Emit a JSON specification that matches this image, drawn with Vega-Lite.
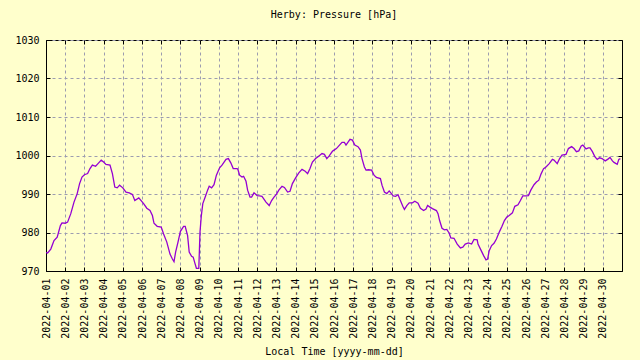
{
  "$schema": "https://vega.github.io/schema/vega-lite/v6.json",
  "width": 576,
  "height": 231,
  "autosize": {"type": "none"},
  "padding": {"left": 46, "top": 40, "right": 18, "bottom": 89},
  "background": "#ffffcc",
  "title": {"text": "Herby: Pressure [hPa]", "font": "DejaVu Sans Mono", "fontSize": 10, "fontWeight": "normal", "color": "black", "offset": 15, "anchor": "middle"},
  "data": {"values": [
    {"time": "2022-04-01T00:00", "hPa": 974.8},
    {"time": "2022-04-01T02:00", "hPa": 974.7},
    {"time": "2022-04-01T06:00", "hPa": 975.7},
    {"time": "2022-04-01T10:00", "hPa": 977.9},
    {"time": "2022-04-01T14:00", "hPa": 978.8},
    {"time": "2022-04-01T18:00", "hPa": 981.8},
    {"time": "2022-04-01T20:00", "hPa": 982.5},
    {"time": "2022-04-02T00:00", "hPa": 982.4},
    {"time": "2022-04-02T03:00", "hPa": 982.7},
    {"time": "2022-04-02T07:00", "hPa": 984.9},
    {"time": "2022-04-02T11:00", "hPa": 987.9},
    {"time": "2022-04-02T15:00", "hPa": 990.1},
    {"time": "2022-04-02T18:00", "hPa": 992.7},
    {"time": "2022-04-02T21:00", "hPa": 994.4},
    {"time": "2022-04-03T00:00", "hPa": 995.0},
    {"time": "2022-04-03T04:00", "hPa": 995.3},
    {"time": "2022-04-03T07:00", "hPa": 996.6},
    {"time": "2022-04-03T10:00", "hPa": 997.5},
    {"time": "2022-04-03T14:00", "hPa": 997.2},
    {"time": "2022-04-03T17:00", "hPa": 997.9},
    {"time": "2022-04-03T21:00", "hPa": 998.8},
    {"time": "2022-04-04T00:00", "hPa": 998.3},
    {"time": "2022-04-04T03:00", "hPa": 997.7},
    {"time": "2022-04-04T08:00", "hPa": 997.5},
    {"time": "2022-04-04T11:00", "hPa": 995.3},
    {"time": "2022-04-04T14:00", "hPa": 991.8},
    {"time": "2022-04-04T17:00", "hPa": 991.6},
    {"time": "2022-04-04T20:00", "hPa": 992.3},
    {"time": "2022-04-05T00:00", "hPa": 991.6},
    {"time": "2022-04-05T04:00", "hPa": 990.5},
    {"time": "2022-04-05T08:00", "hPa": 990.3},
    {"time": "2022-04-05T12:00", "hPa": 989.9},
    {"time": "2022-04-05T15:00", "hPa": 988.3},
    {"time": "2022-04-05T20:00", "hPa": 989.0},
    {"time": "2022-04-06T02:00", "hPa": 987.5},
    {"time": "2022-04-06T06:00", "hPa": 986.3},
    {"time": "2022-04-06T10:00", "hPa": 985.7},
    {"time": "2022-04-06T13:00", "hPa": 984.4},
    {"time": "2022-04-06T15:00", "hPa": 982.4},
    {"time": "2022-04-06T19:00", "hPa": 981.6},
    {"time": "2022-04-07T00:00", "hPa": 981.4},
    {"time": "2022-04-07T03:00", "hPa": 979.6},
    {"time": "2022-04-07T07:00", "hPa": 977.5},
    {"time": "2022-04-07T11:00", "hPa": 974.4},
    {"time": "2022-04-07T14:00", "hPa": 973.1},
    {"time": "2022-04-07T16:00", "hPa": 972.4},
    {"time": "2022-04-07T18:00", "hPa": 974.9},
    {"time": "2022-04-07T21:00", "hPa": 977.5},
    {"time": "2022-04-08T00:00", "hPa": 980.3},
    {"time": "2022-04-08T04:00", "hPa": 981.6},
    {"time": "2022-04-08T06:00", "hPa": 981.6},
    {"time": "2022-04-08T09:00", "hPa": 979.2},
    {"time": "2022-04-08T11:00", "hPa": 974.9},
    {"time": "2022-04-08T14:00", "hPa": 973.8},
    {"time": "2022-04-08T16:00", "hPa": 973.6},
    {"time": "2022-04-08T18:00", "hPa": 972.1},
    {"time": "2022-04-08T20:00", "hPa": 970.7},
    {"time": "2022-04-08T23:00", "hPa": 970.7},
    {"time": "2022-04-09T00:30", "hPa": 980.1},
    {"time": "2022-04-09T02:10", "hPa": 984.4},
    {"time": "2022-04-09T04:00", "hPa": 987.5},
    {"time": "2022-04-09T07:00", "hPa": 989.2},
    {"time": "2022-04-09T10:00", "hPa": 991.0},
    {"time": "2022-04-09T12:00", "hPa": 992.0},
    {"time": "2022-04-09T15:00", "hPa": 991.6},
    {"time": "2022-04-09T18:00", "hPa": 992.4},
    {"time": "2022-04-09T21:00", "hPa": 994.9},
    {"time": "2022-04-10T01:00", "hPa": 996.8},
    {"time": "2022-04-10T04:00", "hPa": 997.5},
    {"time": "2022-04-10T09:00", "hPa": 999.0},
    {"time": "2022-04-10T12:00", "hPa": 999.2},
    {"time": "2022-04-10T15:00", "hPa": 998.1},
    {"time": "2022-04-10T18:00", "hPa": 996.6},
    {"time": "2022-04-10T23:00", "hPa": 996.6},
    {"time": "2022-04-11T00:00", "hPa": 996.3},
    {"time": "2022-04-11T02:00", "hPa": 994.9},
    {"time": "2022-04-11T05:00", "hPa": 994.4},
    {"time": "2022-04-11T07:00", "hPa": 994.6},
    {"time": "2022-04-11T10:00", "hPa": 993.3},
    {"time": "2022-04-11T12:00", "hPa": 991.0},
    {"time": "2022-04-11T15:00", "hPa": 989.2},
    {"time": "2022-04-11T17:00", "hPa": 989.2},
    {"time": "2022-04-11T20:00", "hPa": 990.3},
    {"time": "2022-04-12T00:00", "hPa": 989.6},
    {"time": "2022-04-12T03:00", "hPa": 989.5},
    {"time": "2022-04-12T06:00", "hPa": 989.4},
    {"time": "2022-04-12T11:00", "hPa": 987.9},
    {"time": "2022-04-12T15:00", "hPa": 987.0},
    {"time": "2022-04-12T18:00", "hPa": 988.3},
    {"time": "2022-04-12T21:00", "hPa": 989.2},
    {"time": "2022-04-13T00:00", "hPa": 989.9},
    {"time": "2022-04-13T03:00", "hPa": 991.0},
    {"time": "2022-04-13T07:00", "hPa": 992.0},
    {"time": "2022-04-13T10:00", "hPa": 991.7},
    {"time": "2022-04-13T14:00", "hPa": 990.5},
    {"time": "2022-04-13T17:00", "hPa": 990.7},
    {"time": "2022-04-13T20:00", "hPa": 992.7},
    {"time": "2022-04-14T00:00", "hPa": 994.2},
    {"time": "2022-04-14T04:00", "hPa": 995.5},
    {"time": "2022-04-14T08:00", "hPa": 996.4},
    {"time": "2022-04-14T12:00", "hPa": 995.9},
    {"time": "2022-04-14T15:00", "hPa": 995.3},
    {"time": "2022-04-14T18:00", "hPa": 996.6},
    {"time": "2022-04-14T21:00", "hPa": 998.3},
    {"time": "2022-04-15T01:00", "hPa": 999.2},
    {"time": "2022-04-15T04:00", "hPa": 999.7},
    {"time": "2022-04-15T09:00", "hPa": 1000.5},
    {"time": "2022-04-15T12:00", "hPa": 1000.3},
    {"time": "2022-04-15T15:00", "hPa": 999.2},
    {"time": "2022-04-15T18:00", "hPa": 999.9},
    {"time": "2022-04-15T22:00", "hPa": 1001.1},
    {"time": "2022-04-16T00:00", "hPa": 1001.4},
    {"time": "2022-04-16T03:00", "hPa": 1001.8},
    {"time": "2022-04-16T06:00", "hPa": 1002.5},
    {"time": "2022-04-16T10:00", "hPa": 1003.4},
    {"time": "2022-04-16T13:00", "hPa": 1003.4},
    {"time": "2022-04-16T15:00", "hPa": 1002.7},
    {"time": "2022-04-16T18:00", "hPa": 1003.6},
    {"time": "2022-04-16T20:00", "hPa": 1004.2},
    {"time": "2022-04-16T23:00", "hPa": 1004.0},
    {"time": "2022-04-17T02:00", "hPa": 1002.7},
    {"time": "2022-04-17T06:00", "hPa": 1002.3},
    {"time": "2022-04-17T09:00", "hPa": 1001.4},
    {"time": "2022-04-17T11:00", "hPa": 999.2},
    {"time": "2022-04-17T14:00", "hPa": 997.0},
    {"time": "2022-04-17T16:00", "hPa": 996.2},
    {"time": "2022-04-17T19:00", "hPa": 996.3},
    {"time": "2022-04-17T23:00", "hPa": 996.2},
    {"time": "2022-04-18T02:00", "hPa": 994.9},
    {"time": "2022-04-18T05:00", "hPa": 994.3},
    {"time": "2022-04-18T10:00", "hPa": 994.0},
    {"time": "2022-04-18T12:00", "hPa": 992.3},
    {"time": "2022-04-18T15:00", "hPa": 990.5},
    {"time": "2022-04-18T18:00", "hPa": 990.1},
    {"time": "2022-04-18T21:00", "hPa": 990.8},
    {"time": "2022-04-18T23:00", "hPa": 990.3},
    {"time": "2022-04-19T02:00", "hPa": 989.5},
    {"time": "2022-04-19T05:00", "hPa": 989.4},
    {"time": "2022-04-19T08:00", "hPa": 989.8},
    {"time": "2022-04-19T11:00", "hPa": 988.3},
    {"time": "2022-04-19T14:00", "hPa": 986.8},
    {"time": "2022-04-19T16:00", "hPa": 986.0},
    {"time": "2022-04-19T19:00", "hPa": 987.0},
    {"time": "2022-04-19T22:00", "hPa": 987.7},
    {"time": "2022-04-20T02:00", "hPa": 987.7},
    {"time": "2022-04-20T05:00", "hPa": 988.1},
    {"time": "2022-04-20T09:00", "hPa": 987.6},
    {"time": "2022-04-20T12:00", "hPa": 986.3},
    {"time": "2022-04-20T16:00", "hPa": 985.7},
    {"time": "2022-04-20T19:00", "hPa": 986.1},
    {"time": "2022-04-20T21:00", "hPa": 987.0},
    {"time": "2022-04-21T00:00", "hPa": 986.6},
    {"time": "2022-04-21T03:00", "hPa": 986.2},
    {"time": "2022-04-21T08:00", "hPa": 985.7},
    {"time": "2022-04-21T10:00", "hPa": 984.9},
    {"time": "2022-04-21T12:00", "hPa": 983.1},
    {"time": "2022-04-21T15:00", "hPa": 981.1},
    {"time": "2022-04-21T18:00", "hPa": 980.7},
    {"time": "2022-04-21T21:00", "hPa": 980.8},
    {"time": "2022-04-22T00:00", "hPa": 979.8},
    {"time": "2022-04-22T02:00", "hPa": 978.6},
    {"time": "2022-04-22T06:00", "hPa": 978.5},
    {"time": "2022-04-22T10:00", "hPa": 977.0},
    {"time": "2022-04-22T14:00", "hPa": 976.0},
    {"time": "2022-04-22T17:00", "hPa": 976.2},
    {"time": "2022-04-22T20:00", "hPa": 977.0},
    {"time": "2022-04-23T00:00", "hPa": 977.3},
    {"time": "2022-04-23T04:00", "hPa": 977.0},
    {"time": "2022-04-23T07:00", "hPa": 978.2},
    {"time": "2022-04-23T11:00", "hPa": 978.1},
    {"time": "2022-04-23T12:00", "hPa": 977.0},
    {"time": "2022-04-23T16:00", "hPa": 975.3},
    {"time": "2022-04-23T19:00", "hPa": 974.0},
    {"time": "2022-04-23T22:00", "hPa": 972.9},
    {"time": "2022-04-24T00:00", "hPa": 973.1},
    {"time": "2022-04-24T02:00", "hPa": 975.3},
    {"time": "2022-04-24T05:00", "hPa": 976.6},
    {"time": "2022-04-24T08:00", "hPa": 977.2},
    {"time": "2022-04-24T11:00", "hPa": 978.3},
    {"time": "2022-04-24T15:00", "hPa": 980.3},
    {"time": "2022-04-24T18:00", "hPa": 981.6},
    {"time": "2022-04-24T21:00", "hPa": 983.1},
    {"time": "2022-04-25T00:00", "hPa": 984.0},
    {"time": "2022-04-25T03:00", "hPa": 984.4},
    {"time": "2022-04-25T07:00", "hPa": 985.1},
    {"time": "2022-04-25T10:00", "hPa": 986.8},
    {"time": "2022-04-25T14:00", "hPa": 987.2},
    {"time": "2022-04-25T17:00", "hPa": 988.3},
    {"time": "2022-04-25T20:00", "hPa": 989.5},
    {"time": "2022-04-26T00:00", "hPa": 989.5},
    {"time": "2022-04-26T03:00", "hPa": 989.6},
    {"time": "2022-04-26T06:00", "hPa": 991.0},
    {"time": "2022-04-26T10:00", "hPa": 992.4},
    {"time": "2022-04-26T13:00", "hPa": 993.1},
    {"time": "2022-04-26T16:00", "hPa": 993.6},
    {"time": "2022-04-26T19:00", "hPa": 995.3},
    {"time": "2022-04-26T22:00", "hPa": 996.6},
    {"time": "2022-04-27T01:00", "hPa": 997.0},
    {"time": "2022-04-27T05:00", "hPa": 997.9},
    {"time": "2022-04-27T09:00", "hPa": 999.0},
    {"time": "2022-04-27T11:00", "hPa": 998.8},
    {"time": "2022-04-27T15:00", "hPa": 997.9},
    {"time": "2022-04-27T18:00", "hPa": 999.2},
    {"time": "2022-04-27T21:00", "hPa": 1000.1},
    {"time": "2022-04-28T02:00", "hPa": 1000.3},
    {"time": "2022-04-28T05:00", "hPa": 1001.8},
    {"time": "2022-04-28T09:00", "hPa": 1002.3},
    {"time": "2022-04-28T12:00", "hPa": 1001.8},
    {"time": "2022-04-28T15:00", "hPa": 1001.0},
    {"time": "2022-04-28T18:00", "hPa": 1001.2},
    {"time": "2022-04-28T21:00", "hPa": 1002.5},
    {"time": "2022-04-28T23:00", "hPa": 1002.7},
    {"time": "2022-04-29T03:00", "hPa": 1001.7},
    {"time": "2022-04-29T06:00", "hPa": 1002.0},
    {"time": "2022-04-29T08:00", "hPa": 1002.0},
    {"time": "2022-04-29T11:00", "hPa": 1001.0},
    {"time": "2022-04-29T14:00", "hPa": 999.7},
    {"time": "2022-04-29T17:00", "hPa": 999.0},
    {"time": "2022-04-29T20:00", "hPa": 999.4},
    {"time": "2022-04-29T23:00", "hPa": 999.2},
    {"time": "2022-04-30T03:00", "hPa": 998.6},
    {"time": "2022-04-30T06:00", "hPa": 999.0},
    {"time": "2022-04-30T09:00", "hPa": 999.5},
    {"time": "2022-04-30T12:00", "hPa": 998.6},
    {"time": "2022-04-30T14:00", "hPa": 998.2},
    {"time": "2022-04-30T18:00", "hPa": 997.7},
    {"time": "2022-04-30T20:00", "hPa": 999.0},
    {"time": "2022-04-30T22:00", "hPa": 999.2}
  ]},
  "layer": [
    {
      "mark": {"type": "line", "color": "#9400d3", "strokeWidth": 1.3, "clip": true},
      "encoding": {
        "x": {"field": "time", "type": "temporal",
          "scale": {"domain": [{"year": 2022, "month": 4, "date": 1}, {"year": 2022, "month": 4, "date": 30, "hours": 23, "minutes": 59}], "nice": false},
          "axis": {"orient": "bottom", "title": "Local Time [yyyy-mm-dd]", "format": "%Y-%m-%d", "labelAngle": -90, "tickCount": {"interval": "day", "step": 1}, "labelOverlap": false, "labelFlush": false, "tickSize": -4, "labelPadding": 11, "titlePadding": 8, "grid": true}},
        "y": {"field": "hPa", "type": "quantitative",
          "scale": {"domain": [970, 1030], "nice": false, "zero": false},
          "axis": {"orient": "left", "title": null, "format": "d", "values": [970, 980, 990, 1000, 1010, 1020, 1030], "tickSize": -4, "labelPadding": 11, "grid": true}}
      }
    },
    {
      "mark": {"type": "line", "opacity": 0},
      "encoding": {
        "x": {"field": "time", "type": "temporal",
          "axis": {"orient": "top", "title": null, "labels": false, "domain": false, "grid": false, "tickCount": {"interval": "day", "step": 1}, "tickSize": -4}},
        "y": {"field": "hPa", "type": "quantitative",
          "axis": {"orient": "right", "title": null, "labels": false, "domain": false, "grid": false, "values": [970, 980, 990, 1000, 1010, 1020, 1030], "tickSize": -4}}
      }
    }
  ],
  "resolve": {"axis": {"x": "independent", "y": "independent"}},
  "config": {
    "view": {"stroke": "black", "strokeWidth": 1},
    "axis": {
      "labelFont": "DejaVu Sans Mono", "labelFontSize": 10, "labelColor": "black",
      "titleFont": "DejaVu Sans Mono", "titleFontSize": 10, "titleFontWeight": "normal", "titleColor": "black",
      "domainColor": "black", "tickColor": "black", "tickWidth": 1,
      "gridColor": "#9c9cb0", "gridDash": [3, 3], "gridOpacity": 1, "gridWidth": 1
    }
  }
}
